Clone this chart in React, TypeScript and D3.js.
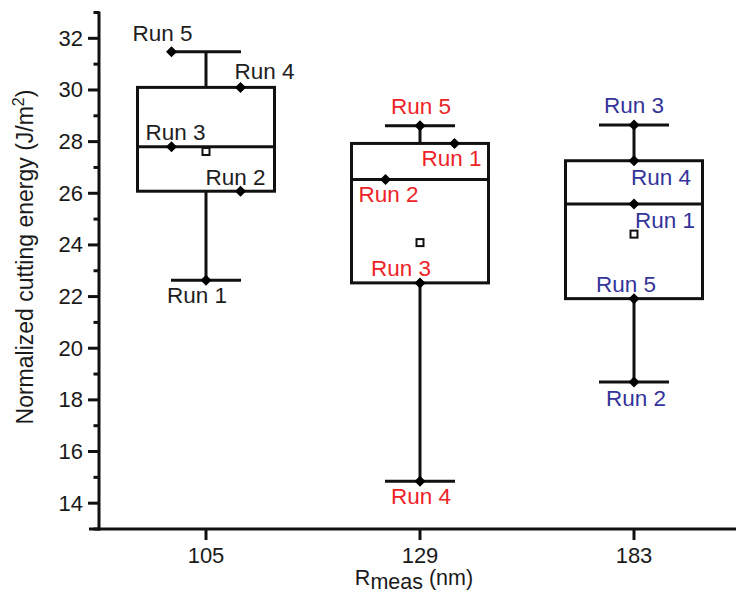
import React from "react";
import * as d3 from "d3";

// ---------- data ----------
const categories = ["105", "129", "183"];
const runNames = ["Run 1", "Run 2", "Run 3", "Run 4", "Run 5"];
// normalized cutting energy (J/m^2), Run 1..Run 5
const energy105 = [22.63, 26.08, 27.8, 30.1, 31.48];
const energy129 = [27.93, 26.53, 22.53, 14.85, 28.61];
const energy183 = [25.58, 18.69, 28.64, 27.26, 21.92];
const yMajorTicks = [14, 16, 18, 20, 22, 24, 26, 28, 30, 32];
const yMinorTicks = [13, 15, 17, 19, 21, 23, 25, 27, 29, 31, 33];

// ---------- layout (not data) ----------
const pointSide = [
  [0, 1, -1, 1, -1],
  [1, -1, 0, 0, 0],
  [0, 0, 0, 0, 0],
];
const labelOffset: [number, number][][] = [
  [[-9, 23], [-5, -6], [4, -7], [24, -8], [-9, -11]],
  [[-3, 23], [3, 22], [-19, -7], [1, 23], [1, -12]],
  [[31, 24], [2, 24], [0, -12], [27, 24], [-8, -7]],
];
const labelColors = ["#1e1e1e", "#ee2328", "#34349a"];

const W = 736;
const H = 593;
const FONT = "Arial, 'Liberation Sans', Helvetica, sans-serif";

export default function App() {
  const groups = [energy105, energy129, energy183];
  const y = d3.scaleLinear().domain([13, 33]).range([529, 12.5]);
  const x = d3.scalePoint<string>().domain(categories).range([206, 634]);
  const axisX = 99;
  const axisY = y(13);
  const boxHalf = 68.5;
  const capHalf = 35;
  const jitter = 34.5;
  const stroke = "#111";

  const stats = groups.map((vals) => {
    const s = vals.slice().sort(d3.ascending);
    return {
      min: d3.min(s)!,
      q1: d3.quantile(s, 0.25)!,
      med: d3.quantile(s, 0.5)!,
      q3: d3.quantile(s, 0.75)!,
      max: d3.max(s)!,
      mean: d3.mean(s)!,
    };
  });

  return (
    <svg
      width={W}
      height={H}
      style={{ position: "absolute", left: 0, top: 0, background: "#fff" }}
      fontFamily={FONT}
    >
      <rect width={W} height={H} fill="#fff" />
      {/* boxes */}
      {categories.map((c, gi) => {
        const cx = x(c)!;
        const st = stats[gi];
        return (
          <g key={c} stroke={stroke} strokeWidth={3} fill="none">
            <line x1={cx} x2={cx} y1={y(st.max)} y2={y(st.q3)} />
            <line x1={cx} x2={cx} y1={y(st.q1)} y2={y(st.min)} />
            <line x1={cx - capHalf} x2={cx + capHalf} y1={y(st.max)} y2={y(st.max)} />
            <line x1={cx - capHalf} x2={cx + capHalf} y1={y(st.min)} y2={y(st.min)} />
            <rect
              x={cx - boxHalf}
              y={y(st.q3)}
              width={boxHalf * 2}
              height={y(st.q1) - y(st.q3)}
            />
            <line x1={cx - boxHalf} x2={cx + boxHalf} y1={y(st.med)} y2={y(st.med)} />
            <rect
              x={cx - 3.5}
              y={y(st.mean) - 3.5}
              width={7}
              height={7}
              fill="#fff"
              strokeWidth={2}
            />
          </g>
        );
      })}
      {/* points + labels */}
      {categories.map((c, gi) =>
        groups[gi].map((v, ri) => {
          const px = x(c)! + pointSide[gi][ri] * jitter;
          const py = y(v);
          const [dx, dy] = labelOffset[gi][ri];
          return (
            <g key={c + ri}>
              <path
                d={`M${px},${py - 5.5}L${px + 5.5},${py}L${px},${py + 5.5}L${px - 5.5},${py}Z`}
                fill="#000"
              />
              <text
                x={px + dx}
                y={py + dy}
                textAnchor="middle"
                fontSize={22.5}
                fill={labelColors[gi]}
              >
                {runNames[ri]}
              </text>
            </g>
          );
        })
      )}
      {/* y axis */}
      <line x1={axisX} x2={axisX} y1={y(33) - 1} y2={axisY + 1.5} stroke={stroke} strokeWidth={3} />
      {yMajorTicks.map((t) => (
        <g key={t}>
          <line x1={axisX - 11} x2={axisX} y1={y(t)} y2={y(t)} stroke={stroke} strokeWidth={3} />
          <text x={83} y={y(t) + 7.5} textAnchor="end" fontSize={22} fill="#1a1a1a">
            {t}
          </text>
        </g>
      ))}
      {yMinorTicks.map((t) => (
        <line key={t} x1={axisX - 5.5} x2={axisX} y1={y(t)} y2={y(t)} stroke={stroke} strokeWidth={3} />
      ))}
      {/* x axis */}
      <line x1={axisX - 10} x2={W} y1={axisY} y2={axisY} stroke={stroke} strokeWidth={3} />
      {categories.map((c) => (
        <g key={c}>
          <line x1={x(c)!} x2={x(c)!} y1={axisY} y2={axisY + 11} stroke={stroke} strokeWidth={3} />
          <text x={x(c)!} y={563} textAnchor="middle" fontSize={22} fill="#1a1a1a">
            {c}
          </text>
        </g>
      ))}
      {/* axis titles */}
      <text x={414} y={585} textAnchor="middle" fontSize={21.5} fill="#1a1a1a">
        R
        <tspan dy={3.5}>meas</tspan>
        <tspan dy={-3.5}> (nm)</tspan>
      </text>
      <text
        transform="translate(33,257) rotate(-90)"
        textAnchor="middle"
        fontSize={23}
        fill="#1a1a1a"
      >
        Normalized cutting energy (J/m
        <tspan fontSize={16} dy={-9}>2</tspan>
        <tspan dy={9}>)</tspan>
      </text>
    </svg>
  );
}
